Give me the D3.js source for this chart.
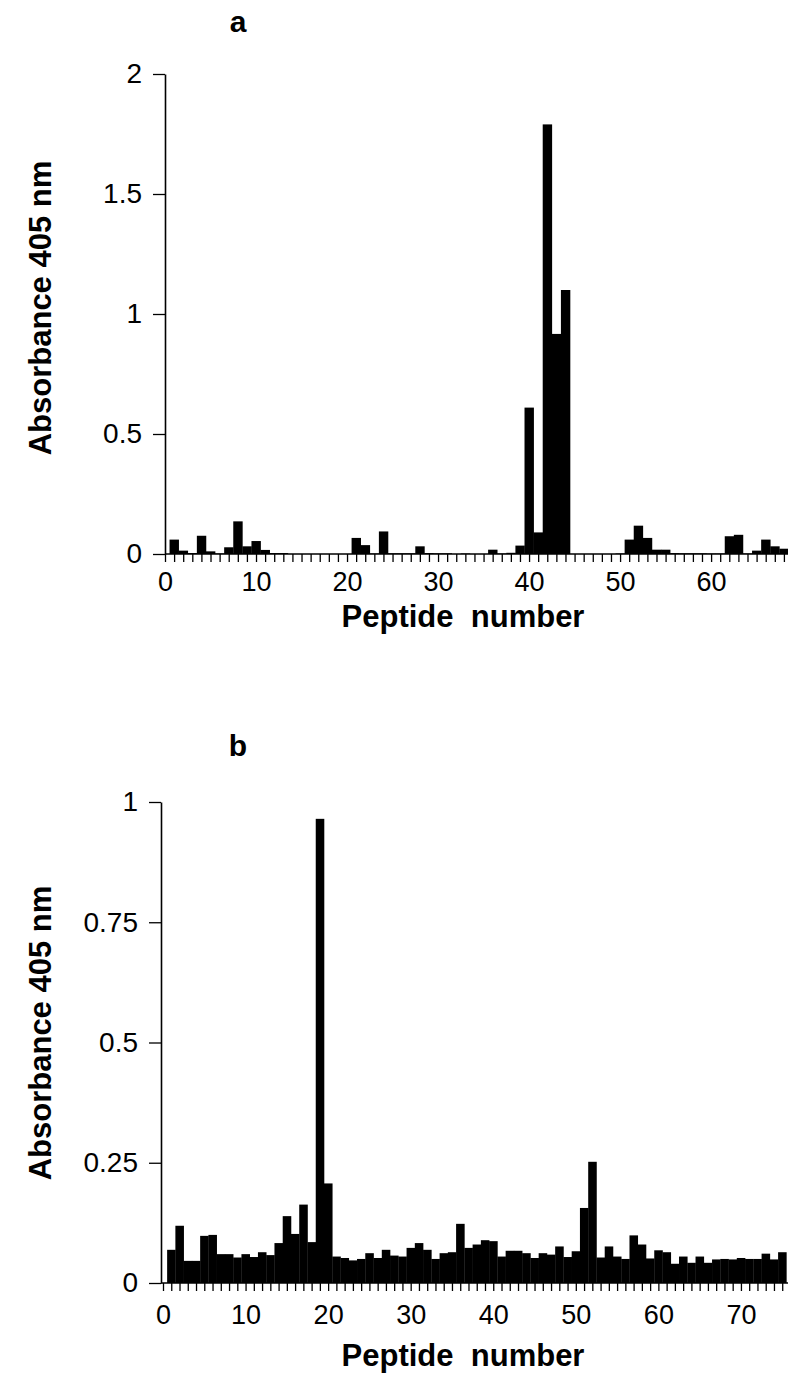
<!DOCTYPE html>
<html>
<head>
<meta charset="utf-8">
<script src="https://cdn.jsdelivr.net/npm/d3@7"></script>
<style>
  html, body { margin: 0; padding: 0; background: #fff; }
  svg { display: block; }
  text { font-family: "Liberation Sans", Arial, Helvetica, sans-serif; fill: #000; }
</style>
</head>
<body>
<svg id="chart" width="788" height="1378"></svg>
<script>
// ---------- DATA ----------
const panelTitles = ["a", "b"];
const xAxisTitle = "Peptide  number";
const yAxisTitle = "Absorbance 405 nm";

// Panel a: absorbance for peptides 1..68
const valuesA = [
  0.060, 0.014, 0.004, 0.076, 0.011, 0.002, 0.028, 0.136, 0.032, 0.054,
  0.017, 0.004, 0.004, 0.000, 0.000, 0.000, 0.000, 0.000, 0.000, 0.000,
  0.067, 0.037, 0.002, 0.094, 0.003, 0.003, 0.003, 0.032, 0.004, 0.003,
  0.003, 0.000, 0.002, 0.000, 0.000, 0.018, 0.002, 0.005, 0.035, 0.610,
  0.090, 1.790, 0.917, 1.100, 0.000, 0.000, 0.000, 0.000, 0.000, 0.002,
  0.060, 0.118, 0.067, 0.018, 0.018, 0.004, 0.003, 0.003, 0.003, 0.002,
  0.002, 0.074, 0.080, 0.002, 0.014, 0.060, 0.032, 0.022
];
const peptidesA = valuesA.map((v, i) => i + 1);

// Panel b: absorbance for peptides 1..75
const valuesB = [
  0.069, 0.119, 0.046, 0.046, 0.098, 0.100, 0.060, 0.060, 0.053, 0.060,
  0.054, 0.064, 0.058, 0.083, 0.139, 0.102, 0.163, 0.085, 0.965, 0.207,
  0.055, 0.052, 0.047, 0.050, 0.062, 0.052, 0.069, 0.057, 0.055, 0.073,
  0.083, 0.069, 0.050, 0.062, 0.064, 0.123, 0.073, 0.080, 0.089, 0.087,
  0.055, 0.067, 0.067, 0.062, 0.052, 0.062, 0.059, 0.076, 0.054, 0.066,
  0.156, 0.252, 0.053, 0.076, 0.055, 0.050, 0.099, 0.080, 0.051, 0.068,
  0.064, 0.040, 0.055, 0.042, 0.055, 0.042, 0.049, 0.050, 0.049, 0.052,
  0.050, 0.050, 0.061, 0.049, 0.064
];
const peptidesB = valuesB.map((v, i) => i + 1);

// Tick values / labels
const yTicksA = [0, 0.5, 1, 1.5, 2];
const yTickLabelsA = ["0", "0.5", "1", "1.5", "2"];
const yTicksB = [0, 0.25, 0.5, 0.75, 1];
const yTickLabelsB = ["0", "0.25", "0.5", "0.75", "1"];
const xLabelTicksA = [0, 10, 20, 30, 40, 50, 60];
const xLabelTicksB = [0, 10, 20, 30, 40, 50, 60, 70];

// ---------- DRAW ----------
const svg = d3.select("#chart");

function drawPanel(cfg) {
  const g = svg.append("g");
  const x = d3.scaleLinear().domain([0, cfg.xMax]).range([cfg.left, cfg.right]);
  const y = d3.scaleLinear().domain([0, cfg.yMax]).range([cfg.bottom, cfg.top]);
  const unit = x(1) - x(0);

  // bars
  g.append("g").selectAll("rect")
    .data(cfg.values.map((v, i) => ({ p: cfg.peptides[i], v })))
    .join("rect")
    .attr("x", d => x(d.p - 0.5))
    .attr("width", unit + 0.3)
    .attr("y", d => y(d.v))
    .attr("height", d => y(0) - y(d.v))
    .attr("fill", "#000");

  // x axis: minor tick at each peptide, labels every 10
  const allTicks = d3.range(0, Math.floor(cfg.xMax) + 1);
  const xAxis = d3.axisBottom(x)
    .tickValues(allTicks)
    .tickSize(8)
    .tickPadding(cfg.xPad)
    .tickSizeOuter(0)
    .tickFormat(d => cfg.xLabelTicks.includes(d) ? String(d) : "");
  const gx = g.append("g")
    .attr("transform", `translate(0,${cfg.bottom})`)
    .call(xAxis);
  gx.select(".domain").attr("stroke", "#000").attr("stroke-width", 1.6)
    .attr("d", `M${cfg.axisX},0H${cfg.right}`);
  gx.selectAll(".tick line").attr("stroke", "#000").attr("stroke-width", 1.3);
  gx.selectAll(".tick text").attr("font-size", 27).attr("font-family", "Liberation Sans, Arial, sans-serif");

  // y axis
  const yAxis = d3.axisLeft(y)
    .tickValues(cfg.yTicks)
    .tickSize(12)
    .tickPadding(11)
    .tickSizeOuter(0)
    .tickFormat((d, i) => cfg.yTickLabels[i]);
  const gy = g.append("g")
    .attr("transform", `translate(${cfg.axisX},0)`)
    .call(yAxis);
  gy.select(".domain").attr("stroke", "#000").attr("stroke-width", 1.6);
  gy.selectAll(".tick line").attr("stroke", "#000").attr("stroke-width", 1.3);
  gy.selectAll(".tick text").attr("font-size", 28).attr("font-family", "Liberation Sans, Arial, sans-serif");

  // axis titles
  g.append("text")
    .attr("x", cfg.xTitleX)
    .attr("y", cfg.xTitleY)
    .attr("text-anchor", "middle")
    .attr("font-size", 31)
    .attr("font-weight", "bold")
    .attr("xml:space", "preserve")
    .style("white-space", "pre")
    .text(xAxisTitle);

  g.append("text")
    .attr("transform", `translate(${cfg.yTitleX},${cfg.yTitleY}) rotate(-90)`)
    .attr("text-anchor", "middle")
    .attr("font-size", 31)
    .attr("font-weight", "bold")
    .text(yAxisTitle);

  // panel letter
  g.append("text")
    .attr("x", cfg.letterX)
    .attr("y", cfg.letterY)
    .attr("text-anchor", "middle")
    .attr("font-size", 30)
    .attr("font-weight", "bold")
    .text(cfg.letter);
}

drawPanel({
  values: valuesA, peptides: peptidesA,
  xMax: 68.45, yMax: 2,
  left: 165, right: 788, top: 74, bottom: 554, axisX: 165, xPad: 10,
  yTicks: yTicksA, yTickLabels: yTickLabelsA, xLabelTicks: xLabelTicksA,
  xTitleX: 463, xTitleY: 627,
  yTitleX: 51, yTitleY: 308,
  letter: panelTitles[0], letterX: 238, letterY: 32
});

drawPanel({
  values: valuesB, peptides: peptidesB,
  xMax: 75.7, yMax: 1,
  left: 163, right: 788, top: 802, bottom: 1283, axisX: 161, xPad: 14,
  yTicks: yTicksB, yTickLabels: yTickLabelsB, xLabelTicks: xLabelTicksB,
  xTitleX: 463, xTitleY: 1366,
  yTitleX: 51, yTitleY: 1033,
  letter: panelTitles[1], letterX: 238, letterY: 756
});
</script>
</body>
</html>
